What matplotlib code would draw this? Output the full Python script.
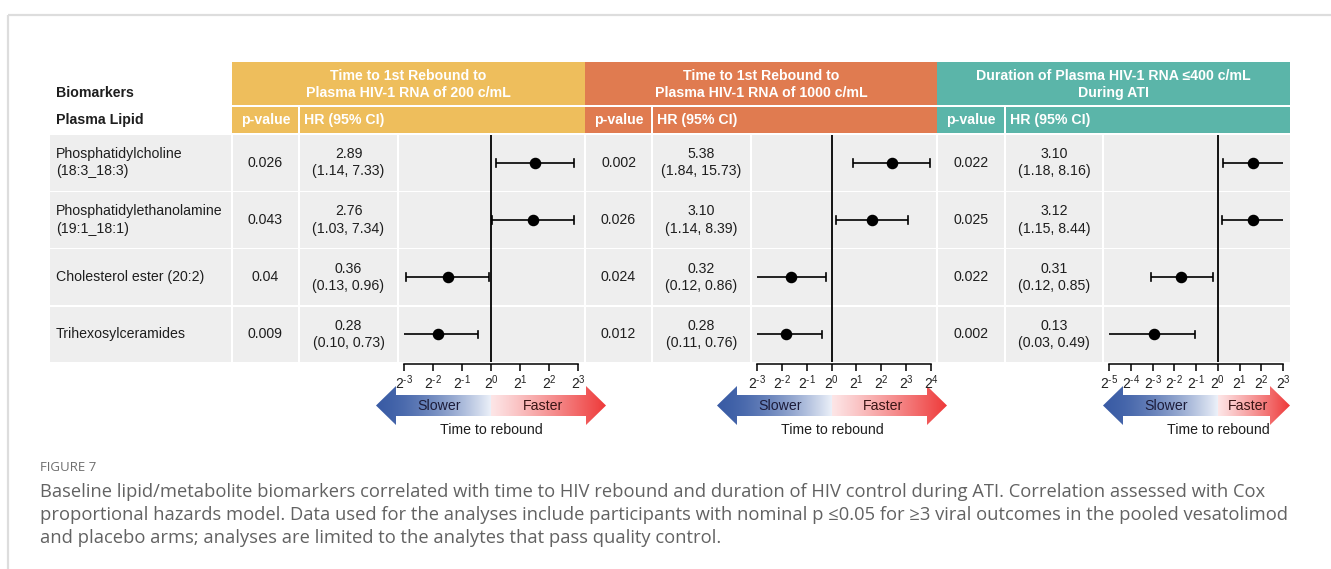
import numpy as np
import matplotlib
matplotlib.use("Agg")
import matplotlib.pyplot as plt
from matplotlib.patches import Rectangle, Polygon
from matplotlib.ticker import FixedLocator, FixedFormatter, NullLocator

plt.rcParams['font.family'] = ['Liberation Sans', 'DejaVu Sans']
plt.rcParams['mathtext.fontset'] = 'custom'
plt.rcParams['mathtext.rm'] = 'Liberation Sans'
plt.rcParams['mathtext.it'] = 'Liberation Sans:italic'
plt.rcParams['mathtext.bf'] = 'Liberation Sans:bold'

# ---------------- data ----------------
biomarkers = ["Phosphatidylcholine\n(18:3_18:3)",
              "Phosphatidylethanolamine\n(19:1_18:1)",
              "Cholesterol ester (20:2)",
              "Trihexosylceramides"]
outcome_titles = ["Time to 1st Rebound to\nPlasma HIV-1 RNA of 200 c/mL",
                  "Time to 1st Rebound to\nPlasma HIV-1 RNA of 1000 c/mL",
                  "Duration of Plasma HIV-1 RNA \u2264400 c/mL\nDuring ATI"]

p_200 = ["0.026", "0.043", "0.04", "0.009"]
hr_200 = [2.89, 2.76, 0.36, 0.28]
lo_200 = [1.14, 1.03, 0.13, 0.10]
hi_200 = [7.33, 7.34, 0.96, 0.73]

p_1000 = ["0.002", "0.026", "0.024", "0.012"]
hr_1000 = [5.38, 3.10, 0.32, 0.28]
lo_1000 = [1.84, 1.14, 0.12, 0.11]
hi_1000 = [15.73, 8.39, 0.86, 0.76]

p_dur = ["0.022", "0.025", "0.022", "0.002"]
hr_dur = [3.10, 3.12, 0.31, 0.13]
lo_dur = [1.18, 1.15, 0.12, 0.03]
hi_dur = [8.16, 8.44, 0.85, 0.49]

exp_200 = [-3, -2, -1, 0, 1, 2, 3]
exp_1000 = [-3, -2, -1, 0, 1, 2, 3, 4]
exp_dur = [-5, -4, -3, -2, -1, 0, 1, 2, 3]

header_colors = ["#EEBE5C", "#E07B50", "#5BB5A9"]

caption_label = "FIGURE 7"
caption_lines = [
    "Baseline lipid/metabolite biomarkers correlated with time to HIV rebound and duration of HIV control during ATI. Correlation assessed with Cox",
    "proportional hazards model. Data used for the analyses include participants with nominal p \u22640.05 for \u22653 viral outcomes in the pooled vesatolimod",
    "and placebo arms; analyses are limited to the analytes that pass quality control.",
]

datasets = [
    (p_200, hr_200, lo_200, hi_200, exp_200),
    (p_1000, hr_1000, lo_1000, hi_1000, exp_1000),
    (p_dur, hr_dur, lo_dur, hi_dur, exp_dur),
]

# ---------------- layout (pixels) ----------------
W, H = 1331, 569
fig = plt.figure(figsize=(W / 100, H / 100), dpi=100)
bg = fig.add_axes([0, 0, 1, 1])
bg.set_xlim(0, W)
bg.set_ylim(H, 0)
bg.axis('off')

CELL = "#EEEEEE"
TXT = "#1e1e1e"
FS = 10.2

# outer frame
bg.plot([8, W], [15, 15], color="#dddddd", lw=1.6, solid_capstyle='butt')
bg.plot([8, 8], [15, H], color="#dddddd", lw=1.6, solid_capstyle='butt')

lab_x0, lab_x1 = 50, 231
hdr1 = (62, 105)
hdr2 = (107, 133)
row_top0, row_pitch, row_h = 135, 57.2, 55.6

panels = [
    dict(x0=233, xp=300, xh=399, x1=584, hx0=232, hx1=585, t0=404, t1=578),
    dict(x0=586, xp=653, xh=752, x1=936, hx0=585, hx1=937, t0=757, t1=931),
    dict(x0=938, xp=1006, xh=1104, x1=1290, hx0=937, hx1=1290, t0=1109, t1=1283),
]
arrows = [(376, 606, 491), (717, 947, 832), (1103, 1290, 1218)]

# header for label column
bg.text(56, 93, "Biomarkers", fontsize=FS, fontweight='bold', color=TXT, va='center', ha='left')
bg.text(56, 120, "Plasma Lipid", fontsize=FS, fontweight='bold', color=TXT, va='center', ha='left')

# label cells
for i, name in enumerate(biomarkers):
    top = row_top0 + i * row_pitch
    bg.add_patch(Rectangle((lab_x0, top), lab_x1 - lab_x0, row_h, facecolor=CELL, edgecolor='none'))
    bg.text(56, top + row_h / 2, name, fontsize=FS, color=TXT, va='center', ha='left', linespacing=1.3)

for k, pn in enumerate(panels):
    col = header_colors[k]
    # header rows
    bg.add_patch(Rectangle((pn['hx0'], hdr1[0]), pn['hx1'] - pn['hx0'], hdr1[1] - hdr1[0],
                           facecolor=col, edgecolor='none'))
    bg.add_patch(Rectangle((pn['hx0'], hdr2[0]), pn['xp'] - 2 - pn['hx0'], hdr2[1] - hdr2[0],
                           facecolor=col, edgecolor='none'))
    bg.add_patch(Rectangle((pn['xp'], hdr2[0]), pn['hx1'] - pn['xp'], hdr2[1] - hdr2[0],
                           facecolor=col, edgecolor='none'))
    bg.text((pn['hx0'] + pn['hx1']) / 2, (hdr1[0] + hdr1[1]) / 2 + 1, outcome_titles[k],
            fontsize=FS, fontweight='bold', color='white', ha='center', va='center', linespacing=1.25)
    bg.text((pn['x0'] + pn['xp'] - 2) / 2, (hdr2[0] + hdr2[1]) / 2, "p-value",
            fontsize=FS, fontweight='bold', color='white', ha='center', va='center')
    bg.text(pn['xp'] + 4, (hdr2[0] + hdr2[1]) / 2, "HR (95% CI)",
            fontsize=FS, fontweight='bold', color='white', ha='left', va='center')

    pv, hr, lo, hi, exps = datasets[k]
    for i in range(len(biomarkers)):
        top = row_top0 + i * row_pitch
        for (a, b) in [(pn['x0'], pn['xp'] - 2), (pn['xp'], pn['xh'] - 2), (pn['xh'], pn['x1'])]:
            bg.add_patch(Rectangle((a, top), b - a, row_h, facecolor=CELL, edgecolor='none'))
        bg.text((pn['x0'] + pn['xp'] - 2) / 2, top + row_h / 2, pv[i], fontsize=FS, color=TXT,
                ha='center', va='center')
        bg.text((pn['xp'] + pn['xh'] - 2) / 2, top + row_h / 2,
                f"{hr[i]:.2f}\n({lo[i]:.2f}, {hi[i]:.2f})", fontsize=FS, color=TXT,
                ha='center', va='center', linespacing=1.3)

    # forest axes
    y0 = row_top0
    y1 = row_top0 + 3 * row_pitch + row_h
    ax = fig.add_axes([pn['xh'] / W, 1 - y1 / H, (pn['x1'] - pn['xh']) / W, (y1 - y0) / H])
    ax.patch.set_alpha(0)
    kmin, kmax = min(exps), max(exps)
    ppu = (pn['t1'] - pn['t0']) / (kmax - kmin)
    ax.set_xscale('log', base=2)
    ax.set_xlim(2 ** (kmin - (pn['t0'] - pn['xh']) / ppu), 2 ** (kmax + (pn['x1'] - pn['t1']) / ppu))
    ax.set_ylim((y1 - y0 - row_h / 2) / row_pitch, -(row_h / 2) / row_pitch)
    for s in ['top', 'right', 'left']:
        ax.spines[s].set_visible(False)
    ax.spines['bottom'].set_bounds(2 ** kmin, 2 ** kmax)
    ax.spines['bottom'].set_position(('outward', 1))
    ax.spines['bottom'].set_linewidth(1.1)
    ax.xaxis.set_major_locator(FixedLocator([2.0 ** e for e in exps]))
    ax.xaxis.set_major_formatter(FixedFormatter([f"$2^{{\\text{{{e}}}}}$" for e in exps]))
    ax.xaxis.set_minor_locator(NullLocator())
    ax.yaxis.set_major_locator(NullLocator())
    ax.tick_params(axis='x', length=5, width=1.1, labelsize=10, pad=2, labelcolor="#222222")
    ax.axvline(1, color='black', lw=1.3, zorder=2)

    xmin_c, xmax_c = 2.0 ** kmin, 2.0 ** kmax
    cap = 0.065
    for i in range(len(hr)):
        a = max(lo[i], xmin_c)
        b = min(hi[i], xmax_c)
        ax.plot([a, b], [i, i], color='black', lw=1.2, zorder=3, solid_capstyle='butt')
        if lo[i] >= xmin_c:
            ax.plot([lo[i], lo[i]], [i - cap, i + cap], color='black', lw=1.2, zorder=3)
        if hi[i] <= xmax_c:
            ax.plot([hi[i], hi[i]], [i - cap, i + cap], color='black', lw=1.2, zorder=3)
        ax.plot([hr[i]], [i], 'o', color='black', ms=7.3, zorder=4)

# gradient arrows
yc, hh, bh, head = 405.5, 19.5, 10.5, 20
for (L, R, C) in arrows:
    pts = [(L, yc), (L + head, yc - hh), (L + head, yc - bh), (R - head, yc - bh), (R - head, yc - hh),
           (R, yc), (R - head, yc + hh), (R - head, yc + bh), (L + head, yc + bh), (L + head, yc + hh)]
    poly = Polygon(pts, closed=True, facecolor='none', edgecolor='none')
    bg.add_patch(poly)
    n = int(R - L)
    xs = np.linspace(L, R, n)
    img = np.zeros((1, n, 3))
    blue0 = np.array([58, 92, 165]) / 255
    blue1 = np.array([236, 241, 249]) / 255
    red0 = np.array([253, 230, 231]) / 255
    red1 = np.array([238, 58, 58]) / 255
    for j, x in enumerate(xs):
        if x <= C:
            t = (x - L) / (C - L)
            t = t ** 1.6
            img[0, j] = blue0 * (1 - t) + blue1 * t
        else:
            t = (x - C) / (R - C)
            t = t ** 1.1
            img[0, j] = red0 * (1 - t) + red1 * t
    im = bg.imshow(img, extent=(L, R, yc + hh, yc - hh), aspect='auto', interpolation='bilinear', zorder=2)
    im.set_clip_path(poly)
    bg.text((L + 12 + C) / 2, yc, "Slower", fontsize=FS, color="#1c1c3a", ha='center', va='center', zorder=3)
    bg.text((C + R - 12) / 2, yc, "Faster", fontsize=FS, color="#3a1515", ha='center', va='center', zorder=3)
    bg.text(C, 430, "Time to rebound", fontsize=FS, color=TXT, ha='center', va='center', zorder=3)

bg.set_xlim(0, W)
bg.set_ylim(H, 0)

# caption
bg.text(40, 467, caption_label, fontsize=9.5, color="#6e6e6e", family=['Open Sans', 'DejaVu Sans'],
        ha='left', va='center')
for j, line in enumerate(caption_lines):
    bg.text(40, 492 + j * 23, line, fontsize=13.2, color="#626262", family=['Open Sans', 'DejaVu Sans'],
            ha='left', va='center')

fig.savefig("out.png", dpi=100)
